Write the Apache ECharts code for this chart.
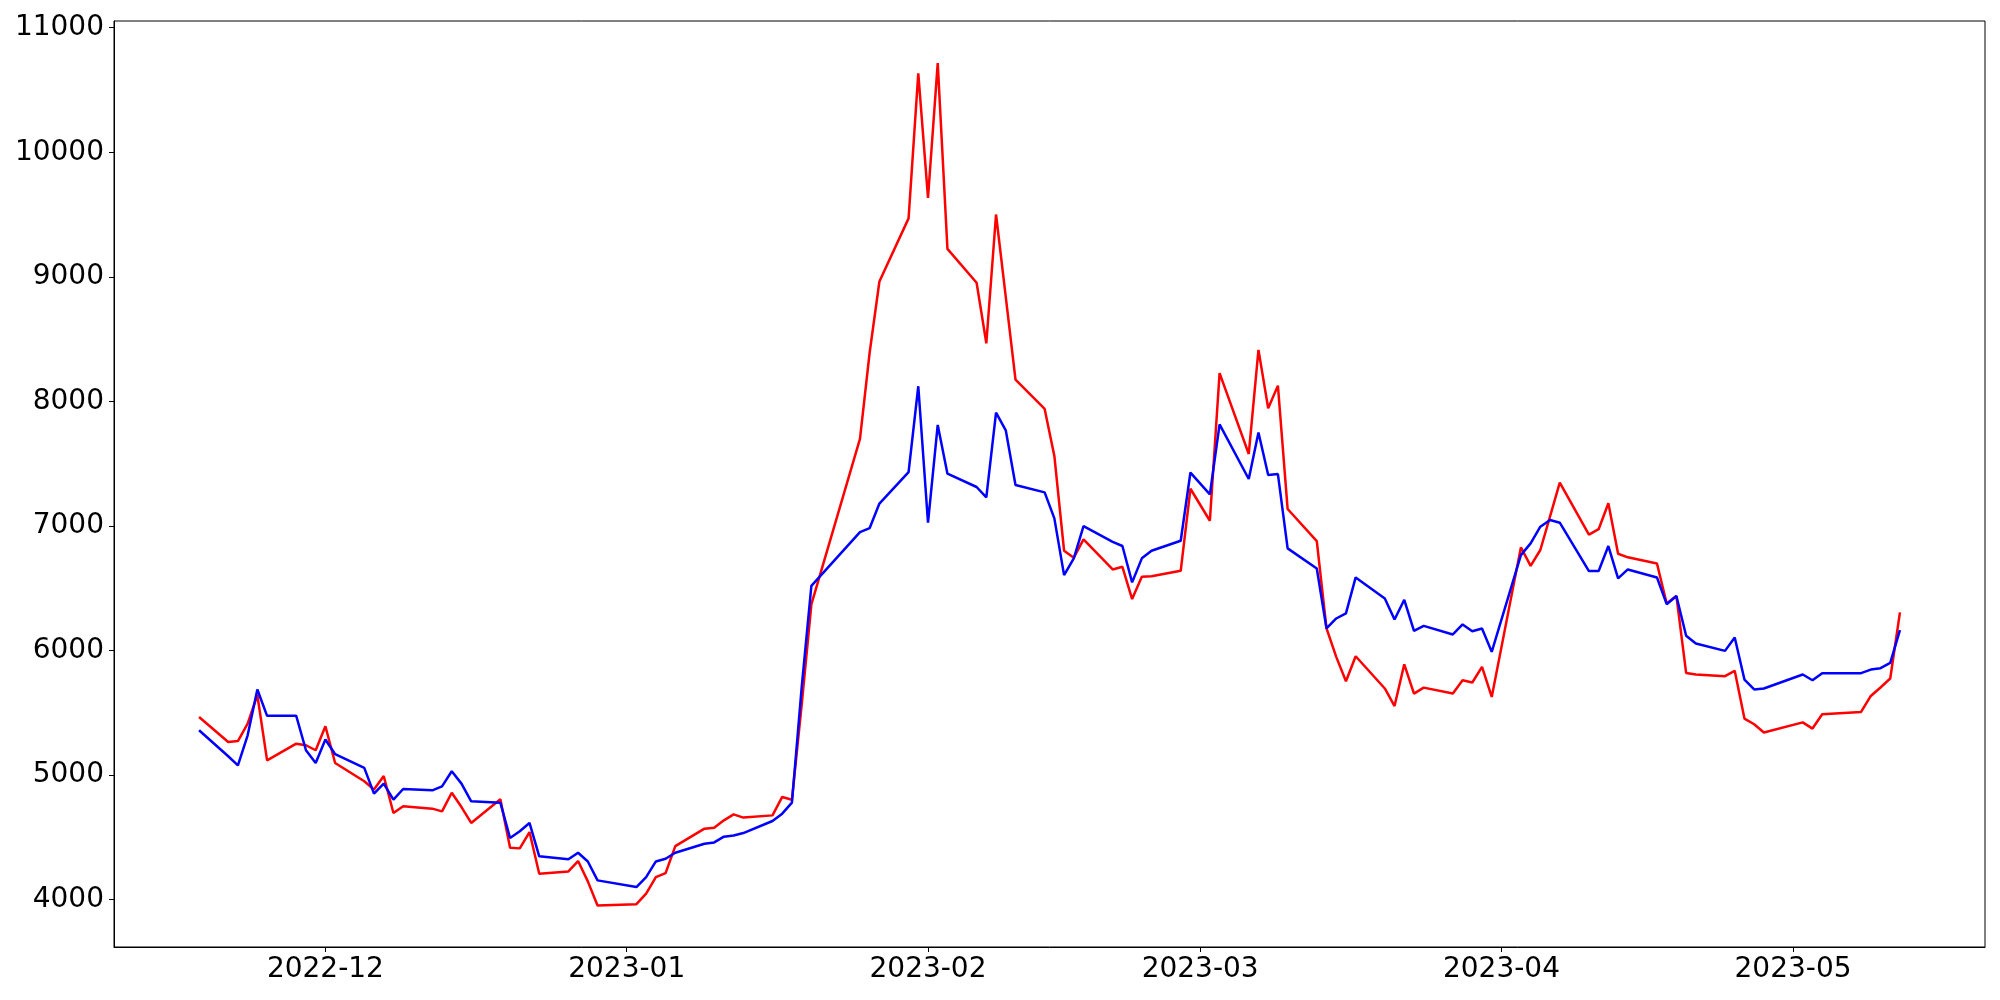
<!DOCTYPE html>
<html>
<head>
<meta charset="utf-8">
<script src="https://cdn.jsdelivr.net/npm/echarts@6/dist/echarts.min.js"></script>
<style>
html,body{margin:0;padding:0;background:#fff;}
#chart{width:2000px;height:1000px;}
</style>
</head>
<body>
<div id="chart"></div>
<script>
const dates = [
'2022-11-18','2022-11-21','2022-11-22','2022-11-23','2022-11-24','2022-11-25','2022-11-28','2022-11-29','2022-11-30',
'2022-12-01','2022-12-02','2022-12-05','2022-12-06','2022-12-07','2022-12-08','2022-12-09','2022-12-12','2022-12-13',
'2022-12-14','2022-12-15','2022-12-16','2022-12-19','2022-12-20','2022-12-21','2022-12-22','2022-12-23','2022-12-26',
'2022-12-27','2022-12-28','2022-12-29','2023-01-02','2023-01-03','2023-01-04','2023-01-05','2023-01-06','2023-01-09',
'2023-01-10','2023-01-11','2023-01-12','2023-01-13','2023-01-16','2023-01-17','2023-01-18','2023-01-19','2023-01-20',
'2023-01-25','2023-01-26','2023-01-27','2023-01-30','2023-01-31','2023-02-01','2023-02-02','2023-02-03','2023-02-06',
'2023-02-07','2023-02-08','2023-02-09','2023-02-10','2023-02-13','2023-02-14','2023-02-15','2023-02-16','2023-02-17',
'2023-02-20','2023-02-21','2023-02-22','2023-02-23','2023-02-24','2023-02-27','2023-02-28','2023-03-02','2023-03-03',
'2023-03-06','2023-03-07','2023-03-08','2023-03-09','2023-03-10','2023-03-13','2023-03-14','2023-03-15','2023-03-16',
'2023-03-17','2023-03-20','2023-03-21','2023-03-22','2023-03-23','2023-03-24','2023-03-27','2023-03-28','2023-03-29',
'2023-03-30','2023-03-31','2023-04-03','2023-04-04','2023-04-05','2023-04-06','2023-04-07','2023-04-10','2023-04-11',
'2023-04-12','2023-04-13','2023-04-14','2023-04-17','2023-04-18','2023-04-19','2023-04-20','2023-04-21','2023-04-24',
'2023-04-25','2023-04-26','2023-04-27','2023-04-28','2023-05-02','2023-05-03','2023-05-04','2023-05-08','2023-05-09',
'2023-05-10','2023-05-11','2023-05-12'
];
const redValues = [
5465,5264,5272,5412,5640,5117,5251,5238,5198,
5391,5096,4949,4882,4991,4694,4748,4729,4707,
4857,4742,4614,4804,4415,4410,4541,4206,4225,
4308,4145,3952,3962,4046,4179,4211,4428,4568,
4576,4635,4683,4657,4675,4823,4801,5560,6370,
7698,8394,8962,9469,10634,9633,10716,9224,8952,
8466,9500,8838,8175,7939,7561,6800,6744,6891,
6650,6671,6412,6591,6596,6639,7298,7041,8226,
7577,8413,7944,8126,7135,6878,6176,5948,5752,
5953,5694,5553,5888,5653,5701,5653,5760,5742,
5868,5626,6827,6679,6806,7076,7347,6929,6973,
7181,6776,6747,6698,6376,6436,5819,5806,5793,
5836,5452,5407,5340,5422,5372,5487,5506,5634,
5702,5774,6305
];
const blueValues = [
5359,5150,5077,5318,5686,5474,5474,5198,5096,
5284,5166,5056,4850,4930,4801,4887,4876,4908,
5029,4930,4788,4777,4493,4547,4614,4346,4322,
4375,4305,4153,4099,4179,4305,4327,4375,4447,
4458,4504,4514,4533,4630,4689,4777,5700,6518,
6950,6982,7179,7432,8121,7025,7810,7419,7312,
7229,7909,7767,7328,7269,7060,6604,6739,6998,
6872,6838,6546,6739,6800,6880,7428,7253,7815,
7376,7749,7408,7416,6819,6658,6176,6256,6297,
6586,6417,6248,6406,6157,6197,6128,6208,6154,
6176,5988,6765,6859,6993,7047,7025,6637,6637,
6838,6578,6650,6585,6371,6436,6117,6055,5996,
6103,5766,5686,5694,5806,5760,5817,5817,5846,
5857,5900,6162
];
const xTickDates = ['2022-12-01','2023-01-01','2023-02-01','2023-03-01','2023-04-01','2023-05-01'];
const yTicks = [4000,5000,6000,7000,8000,9000,10000,11000];

function toUTC(s){const p=s.split('-').map(Number);return Date.UTC(p[0],p[1]-1,p[2]);}
const xs = dates.map(toUTC);
const redData = xs.map((t,i)=>[t,redValues[i]]);
const blueData = xs.map((t,i)=>[t,blueValues[i]]);
const xTicks = xTickDates.map(toUTC);
const DAY = 86400000;
const xMin = toUTC('2022-11-18') - 8.75*DAY;
const xMax = toUTC('2023-05-12') + 8.75*DAY;

const font = 'DejaVu Sans';
const chart = echarts.init(document.getElementById('chart'), null, {renderer:'canvas'});
chart.setOption({
  animation:false,
  backgroundColor:'#fff',
  grid:{left:114,right:15,top:21,bottom:53,show:true,borderColor:'#000',borderWidth:1,backgroundColor:'transparent'},
  xAxis:{
    type:'value',min:xMin,max:xMax,scale:true,
    axisLine:{show:true,lineStyle:{color:'#000',width:1}},
    axisTick:{show:true,length:5,inside:false,lineStyle:{color:'#000',width:1},customValues:xTicks},
    axisLabel:{show:true,color:'#000',fontFamily:font,fontSize:28,margin:9,customValues:xTicks,
      formatter:function(v){const d=new Date(v);const m=d.getUTCMonth()+1;return d.getUTCFullYear()+'-'+(m<10?'0':'')+m;}},
    splitLine:{show:false},minorTick:{show:false}
  },
  yAxis:{
    type:'value',min:3618,max:11054,
    axisLine:{show:true,lineStyle:{color:'#000',width:1}},
    axisTick:{show:true,length:5,inside:false,lineStyle:{color:'#000',width:1},customValues:yTicks},
    axisLabel:{show:true,color:'#000',fontFamily:font,fontSize:28,margin:10,customValues:yTicks,
      formatter:function(v){return String(Math.round(v));}},
    splitLine:{show:false}
  },
  series:[
    {type:'line',data:redData,showSymbol:false,symbol:'none',lineStyle:{color:'#ff0000',width:2.5},itemStyle:{color:'#ff0000'},z:2},
    {type:'line',data:blueData,showSymbol:false,symbol:'none',lineStyle:{color:'#0000ff',width:2.5},itemStyle:{color:'#0000ff'},z:3}
  ]
});
</script>
</body>
</html>
